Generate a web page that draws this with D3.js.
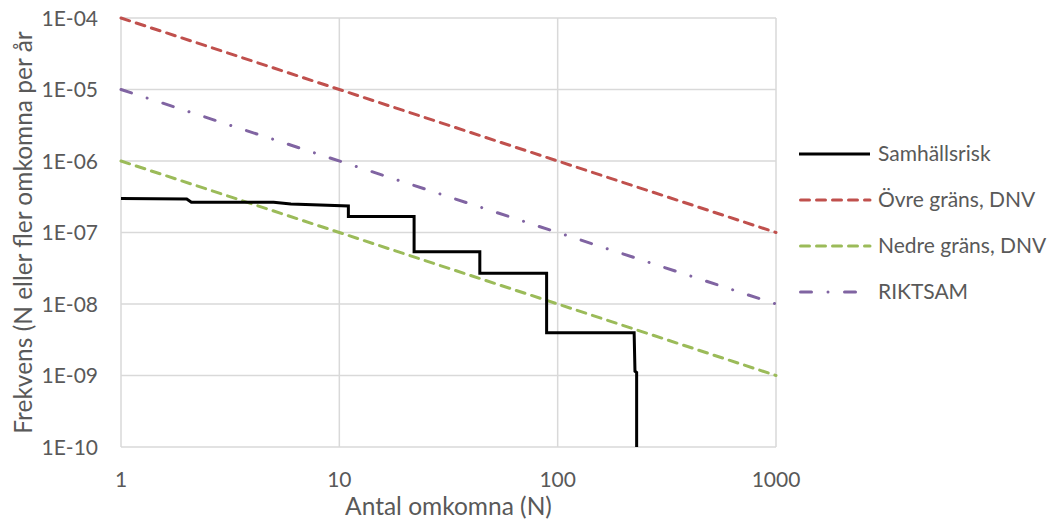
<!DOCTYPE html>
<html>
<head>
<meta charset="utf-8">
<script src="https://cdn.jsdelivr.net/npm/d3@7"></script>
<style>
  body { margin: 0; background: #fff; }
  text { font-family: Lato, "Open Sans", sans-serif; fill: #595959; }
</style>
</head>
<body>
<div id="chart"></div>
<script>
// data
var nSteps = [1, 2, 2.1, 5, 6, 11, 11, 22, 22, 44, 44, 89, 89, 224, 226, 230, 230];
var fSteps = [3.0e-7, 2.95e-7, 2.65e-7, 2.65e-7, 2.5e-7, 2.35e-7, 1.68e-7, 1.68e-7, 5.4e-8, 5.4e-8, 2.7e-8, 2.7e-8, 3.95e-9, 3.95e-9, 1.15e-9, 1.1e-9, 1e-12];
var limN = [1, 1000];
var upperDNV = [1e-4, 1e-7];
var lowerDNV = [1e-6, 1e-9];
var riktsam = [1e-5, 1e-8];
var xTicks = [1, 10, 100, 1000];
var yTicks = [1e-4, 1e-5, 1e-6, 1e-7, 1e-8, 1e-9, 1e-10];
var legendNames = ["Samhällsrisk", "Övre gräns, DNV", "Nedre gräns, DNV", "RIKTSAM"];

var W = 1053, H = 519;
var margin = {top: 18, right: 277, bottom: 72, left: 121};
var width = W - margin.left - margin.right,
    height = H - margin.top - margin.bottom;

var svg = d3.select("#chart").append("svg")
    .attr("width", W).attr("height", H);
var g = svg.append("g")
    .attr("transform", "translate(" + margin.left + "," + margin.top + ")");

var x = d3.scaleLog().domain([1, 1000]).range([0, width]);
var y = d3.scaleLog().domain([1e-10, 1e-4]).range([height, 0]);

// grid
g.selectAll(".gx").data(xTicks).enter().append("line")
    .attr("x1", d => x(d)).attr("x2", d => x(d))
    .attr("y1", 0).attr("y2", height)
    .attr("stroke", "#d9d9d9").attr("stroke-width", 1.5);
g.selectAll(".gy").data(yTicks).enter().append("line")
    .attr("x1", 0).attr("x2", width)
    .attr("y1", d => y(d)).attr("y2", d => y(d))
    .attr("stroke", "#d9d9d9").attr("stroke-width", 1.5);

// tick labels
g.selectAll(".xl").data(xTicks).enter().append("text")
    .attr("x", d => x(d)).attr("y", height + 40)
    .attr("text-anchor", "middle").style("font-size", "21px")
    .text(d => d);
g.selectAll(".yl").data(yTicks).enter().append("text")
    .attr("x", -23).attr("y", d => y(d) + 7.5)
    .attr("text-anchor", "end").style("font-size", "21px")
    .text(d => "1E-" + String(Math.round(-Math.log10(d))).padStart(2, "0"));

// axis titles
svg.append("text").attr("x", margin.left + width / 2 + 0).attr("y", 515)
    .attr("text-anchor", "middle").style("font-size", "24.5px")
    .text("Antal omkomna (N)");
svg.append("text")
    .attr("transform", "translate(32," + (margin.top + height / 2) + ") rotate(-90)")
    .attr("text-anchor", "middle").style("font-size", "24.5px")
    .text("Frekvens (N eller fler omkomna per år");

g.append("clipPath").attr("id", "clip").append("rect")
    .attr("x", -2).attr("y", -2).attr("width", width + 4).attr("height", height + 2);

var plot = g.append("g").attr("clip-path", "url(#clip)");
var line = d3.line().x(d => x(d[0])).y(d => y(d[1]));

var series = [
  {vals: limN.map((n, i) => [n, upperDNV[i]]), color: "#C0504D", dash: "9,7"},
  {vals: limN.map((n, i) => [n, lowerDNV[i]]), color: "#9BBB59", dash: "9,7"},
  {vals: limN.map((n, i) => [n, riktsam[i]]), color: "#8064A2", dash: "11,16.5,0.01,16.5"}
];
series.forEach(function (s) {
  plot.append("path").datum(s.vals).attr("d", line)
      .attr("fill", "none").attr("stroke", s.color).attr("stroke-width", 3)
      .attr("stroke-dasharray", s.dash).attr("stroke-linecap", "round");
});
plot.append("path").datum(nSteps.map((n, i) => [n, fSteps[i]])).attr("d", line)
    .attr("fill", "none").attr("stroke", "#000").attr("stroke-width", 3)
    .attr("stroke-linejoin", "miter");

// legend
var legStyles = [
  {color: "#000", dash: null, cap: "butt"},
  {color: "#C0504D", dash: "9,7", cap: "round"},
  {color: "#9BBB59", dash: "9,7", cap: "round"},
  {color: "#8064A2", dash: "11,16.5,0.01,16.5", cap: "round"}
];
var leg = svg.append("g").attr("transform", "translate(799,154)");
legendNames.forEach(function (name, i) {
  var row = leg.append("g").attr("transform", "translate(0," + i * 46 + ")");
  row.append("line").attr("x1", legStyles[i].cap === "round" ? 1.5 : 0).attr("x2", 71).attr("y1", 0).attr("y2", 0)
      .attr("stroke", legStyles[i].color).attr("stroke-width", 3)
      .attr("stroke-dasharray", legStyles[i].dash)
      .attr("stroke-linecap", legStyles[i].cap);
  row.append("text").attr("x", 79).attr("y", 7).style("font-size", "21px").text(name);
});
</script>
</body>
</html>
